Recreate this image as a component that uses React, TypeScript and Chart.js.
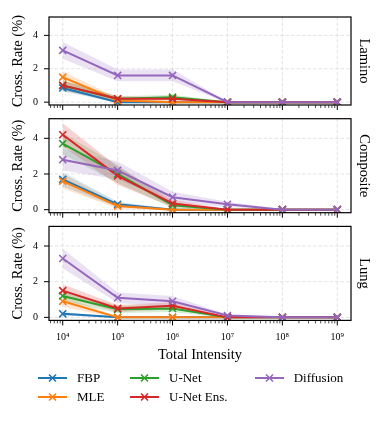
import React, { useEffect, useRef } from 'react';
import { Chart, registerables } from 'chart.js';

Chart.register(...registerables);

// ---------- data ----------
const intensities = [1e4, 1e5, 1e6, 1e7, 1e8, 1e9];
const xTickLabels = ['10⁴', '10⁵', '10⁶', '10⁷', '10⁸', '10⁹'];
const yTickValues = [0, 2, 4];
const methods = ['FBP', 'MLE', 'U-Net', 'U-Net Ens.', 'Diffusion'];
const colors = ['#1f77b4', '#ff7f0e', '#2ca02c', '#d62728', '#9467bd'];
const panelNames = ['Lamino', 'Composite', 'Lung'];

// Lamino
const laminoFBP = [0.85, 0.0, 0.0, 0, 0, 0];
const laminoMLE = [1.5, 0.1, 0.0, 0, 0, 0];
const laminoUNet = [1.0, 0.2, 0.3, 0, 0, 0];
const laminoEns = [1.0, 0.2, 0.2, 0, 0, 0];
const laminoDiff = [3.1, 1.6, 1.6, 0, 0, 0];
const laminoFBPSpread = [0.2, 0.05, 0.02, 0, 0, 0];
const laminoMLESpread = [0.35, 0.15, 0.05, 0, 0, 0];
const laminoUNetSpread = [0.3, 0.15, 0.15, 0.02, 0, 0];
const laminoEnsSpread = [0.3, 0.15, 0.1, 0.02, 0, 0];
const laminoDiffSpread = [0.5, 0.35, 0.35, 0.03, 0, 0];

// Composite
const compFBP = [1.7, 0.3, 0.0, 0, 0, 0];
const compMLE = [1.6, 0.2, 0.0, 0, 0, 0];
const compUNet = [3.7, 2.0, 0.25, 0, 0, 0];
const compEns = [4.2, 1.9, 0.35, 0, 0, 0];
const compDiff = [2.8, 2.2, 0.7, 0.3, 0, 0];
const compFBPSpread = [0.4, 0.15, 0.05, 0, 0, 0];
const compMLESpread = [0.4, 0.15, 0.05, 0, 0, 0];
const compUNetSpread = [0.6, 0.5, 0.15, 0.02, 0, 0];
const compEnsSpread = [0.65, 0.5, 0.2, 0.02, 0, 0];
const compDiffSpread = [0.6, 0.5, 0.3, 0.15, 0.02, 0];

// Lung
const lungFBP = [0.2, 0.0, 0.0, 0, 0, 0];
const lungMLE = [0.9, 0.0, 0.0, 0, 0, 0];
const lungUNet = [1.2, 0.45, 0.5, 0, 0, 0];
const lungEns = [1.5, 0.5, 0.65, 0, 0, 0];
const lungDiff = [3.3, 1.1, 0.9, 0.1, 0, 0];
const lungFBPSpread = [0.1, 0.02, 0.02, 0, 0, 0];
const lungMLESpread = [0.3, 0.05, 0.05, 0, 0, 0];
const lungUNetSpread = [0.3, 0.2, 0.2, 0.03, 0, 0];
const lungEnsSpread = [0.35, 0.2, 0.2, 0.03, 0, 0];
const lungDiffSpread = [0.55, 0.3, 0.3, 0.05, 0, 0];

const panelMeans = [
  [laminoFBP, laminoMLE, laminoUNet, laminoEns, laminoDiff],
  [compFBP, compMLE, compUNet, compEns, compDiff],
  [lungFBP, lungMLE, lungUNet, lungEns, lungDiff],
];
const panelSpreads = [
  [laminoFBPSpread, laminoMLESpread, laminoUNetSpread, laminoEnsSpread, laminoDiffSpread],
  [compFBPSpread, compMLESpread, compUNetSpread, compEnsSpread, compDiffSpread],
  [lungFBPSpread, lungMLESpread, lungUNetSpread, lungEnsSpread, lungDiffSpread],
];

// ---------- layout ----------
const W = 382;
const H = 421;
const FONT = "'Liberation Serif', 'Times New Roman', serif";
const LABEL_SIZE = 14.5;
const panelTops = [11, 118.7, 226.4];
const panelHeight = 94;
const xMin = Math.pow(10, 3.75);
const xMax = Math.pow(10, 9.25);

function hexToRgba(hex: string, a: number) {
  const n = parseInt(hex.slice(1), 16);
  return `rgba(${(n >> 16) & 255},${(n >> 8) & 255},${n & 255},${a})`;
}

function logTickValues() {
  const vals: { value: number; major: boolean }[] = [];
  for (let e = 3; e <= 9; e++) {
    for (let m = 1; m <= 9; m++) {
      const v = m * Math.pow(10, e);
      if (v >= xMin && v <= xMax) vals.push({ value: v, major: m === 1 });
    }
  }
  return vals;
}

const framePlugin = {
  id: 'frame',
  beforeDatasetsDraw(chart: any) {
    const { ctx, chartArea: a, scales } = chart;
    ctx.save();
    ctx.strokeStyle = '#dcdcdc';
    ctx.lineWidth = 0.8;
    ctx.setLineDash([3.5, 2]);
    scales.x.ticks.forEach((t: any) => {
      if (!t.major) return;
      const px = scales.x.getPixelForValue(t.value);
      ctx.beginPath();
      ctx.moveTo(px, a.top);
      ctx.lineTo(px, a.bottom);
      ctx.stroke();
    });
    scales.y.ticks.forEach((t: any) => {
      const py = scales.y.getPixelForValue(t.value);
      ctx.beginPath();
      ctx.moveTo(a.left, py);
      ctx.lineTo(a.right, py);
      ctx.stroke();
    });
    ctx.restore();
  },
  afterDraw(chart: any) {
    const { ctx, chartArea: a, scales } = chart;
    ctx.save();
    ctx.setLineDash([]);
    ctx.strokeStyle = '#000';
    scales.x.ticks.forEach((t: any) => {
      const px = scales.x.getPixelForValue(t.value);
      ctx.lineWidth = t.major ? 1 : 0.7;
      ctx.beginPath();
      ctx.moveTo(px, a.bottom);
      ctx.lineTo(px, a.bottom + (t.major ? 5 : 3));
      ctx.stroke();
    });
    scales.y.ticks.forEach((t: any) => {
      const py = scales.y.getPixelForValue(t.value);
      ctx.lineWidth = 1;
      ctx.beginPath();
      ctx.moveTo(a.left, py);
      ctx.lineTo(a.left - 5, py);
      ctx.stroke();
    });
    ctx.lineWidth = 1.2;
    ctx.strokeRect(a.left, a.top, a.right - a.left, a.bottom - a.top);
    ctx.restore();
  },
};

function buildConfig(p: number): any {
  const means = panelMeans[p];
  const spreads = panelSpreads[p];
  const isBottom = p === panelTops.length - 1;
  const xAxisH = isBottom ? 44 : 10;
  const datasets: any[] = [];
  methods.forEach((m, i) => {
    datasets.push({
      label: m + ' upper',
      data: intensities.map((x, j) => ({ x, y: means[i][j] + spreads[i][j] })),
      borderWidth: 0,
      pointRadius: 0,
      fill: '+1',
      backgroundColor: hexToRgba(colors[i], 0.2),
      borderColor: 'transparent',
      order: 20 - i,
    });
    datasets.push({
      label: m + ' lower',
      data: intensities.map((x, j) => ({ x, y: means[i][j] - spreads[i][j] })),
      borderWidth: 0,
      pointRadius: 0,
      fill: false,
      borderColor: 'transparent',
      order: 20 - i,
    });
  });
  methods.forEach((m, i) => {
    datasets.push({
      label: m,
      data: intensities.map((x, j) => ({ x, y: means[i][j] })),
      borderColor: colors[i],
      backgroundColor: colors[i],
      borderWidth: 2,
      pointStyle: 'crossRot',
      pointRadius: 5,
      pointBorderWidth: 1.6,
      pointBorderColor: colors[i],
      fill: false,
      tension: 0,
      order: 10 - i,
    });
  });

  return {
    type: 'line',
    data: { datasets },
    plugins: [framePlugin],
    options: {
      animation: false,
      responsive: false,
      devicePixelRatio: 1,
      events: [],
      layout: {
        padding: {
          top: panelTops[p],
          bottom: H - panelTops[p] - panelHeight - xAxisH,
          left: 0,
          right: 0,
        },
      },
      plugins: { legend: { display: false }, tooltip: { enabled: false } },
      scales: {
        x: {
          type: 'logarithmic',
          min: xMin,
          max: xMax,
          grid: { display: false, drawTicks: false },
          border: { display: false },
          afterBuildTicks: (s: any) => {
            s.ticks = logTickValues();
          },
          afterFit: (s: any) => {
            s.height = xAxisH;
          },
          ticks: {
            display: isBottom,
            autoSkip: false,
            maxRotation: 0,
            minRotation: 0,
            padding: 10.5,
            color: '#000',
            font: { family: FONT, size: 10 },
            callback: (v: number) => {
              const idx = intensities.indexOf(v);
              return idx >= 0 ? xTickLabels[idx] : '';
            },
          },
          title: {
            display: isBottom,
            text: 'Total Intensity',
            color: '#000',
            font: { family: FONT, size: LABEL_SIZE },
            padding: { top: 0, bottom: 0.7 },
          },
        },
        y: {
          type: 'linear',
          position: 'left',
          min: -0.17,
          max: 5.1,
          grid: { display: false, drawTicks: false },
          border: { display: false },
          afterBuildTicks: (s: any) => {
            s.ticks = yTickValues.map((v) => ({ value: v }));
          },
          afterFit: (s: any) => {
            s.width = 49;
          },
          ticks: {
            padding: 11,
            color: '#000',
            font: { family: FONT, size: 10 },
            callback: (v: number) => String(v),
          },
          title: {
            display: true,
            text: 'Cross. Rate (%)',
            color: '#000',
            font: { family: FONT, size: LABEL_SIZE },
            padding: { top: 9, bottom: 0 },
          },
        },
        y2: {
          type: 'linear',
          position: 'right',
          grid: { display: false, drawTicks: false },
          border: { display: false },
          ticks: { display: false },
          afterFit: (s: any) => {
            s.width = 31;
          },
          title: {
            display: true,
            text: panelNames[p],
            color: '#000',
            font: { family: FONT, size: LABEL_SIZE },
            padding: { top: 9.3, bottom: 0 },
          },
        },
      },
    },
  };
}

function Panel({ index }: { index: number }) {
  const ref = useRef<HTMLCanvasElement>(null);
  useEffect(() => {
    if (!ref.current) return;
    const chart = new Chart(ref.current, buildConfig(index));
    return () => chart.destroy();
  }, [index]);
  return (
    <canvas
      ref={ref}
      width={W}
      height={H}
      style={{ position: 'absolute', left: 0, top: 0, width: W, height: H, pointerEvents: 'none' }}
    />
  );
}

const legendCols = [38, 130, 254.7];
const legendRows = [377.5, 396.7];
const legendPlacement = [
  [0, 0],
  [0, 1],
  [1, 0],
  [1, 1],
  [2, 0],
];

function LegendMarker({ color }: { color: string }) {
  return (
    <svg width={30} height={12} style={{ display: 'block' }}>
      <line x1={0} y1={6} x2={29} y2={6} stroke={color} strokeWidth={2} />
      <line x1={11} y1={2.5} x2={18} y2={9.5} stroke={color} strokeWidth={1.6} />
      <line x1={11} y1={9.5} x2={18} y2={2.5} stroke={color} strokeWidth={1.6} />
    </svg>
  );
}

export default function App() {
  return (
    <div style={{ position: 'fixed', left: 0, top: 0, width: W, height: H, background: '#fff', overflow: 'hidden' }}>
      {panelNames.map((_, i) => (
        <Panel key={i} index={i} />
      ))}
      {methods.map((m, i) => {
        const [c, r] = legendPlacement[i];
        return (
          <div
            key={m}
            style={{
              position: 'absolute',
              left: legendCols[c],
              top: legendRows[r] - 8,
              height: 16,
              display: 'flex',
              alignItems: 'center',
              fontFamily: FONT,
              fontSize: 13,
              color: '#000',
              whiteSpace: 'nowrap',
            }}
          >
            <LegendMarker color={colors[i]} />
            <span style={{ marginLeft: 9 }}>{m}</span>
          </div>
        );
      })}
    </div>
  );
}
